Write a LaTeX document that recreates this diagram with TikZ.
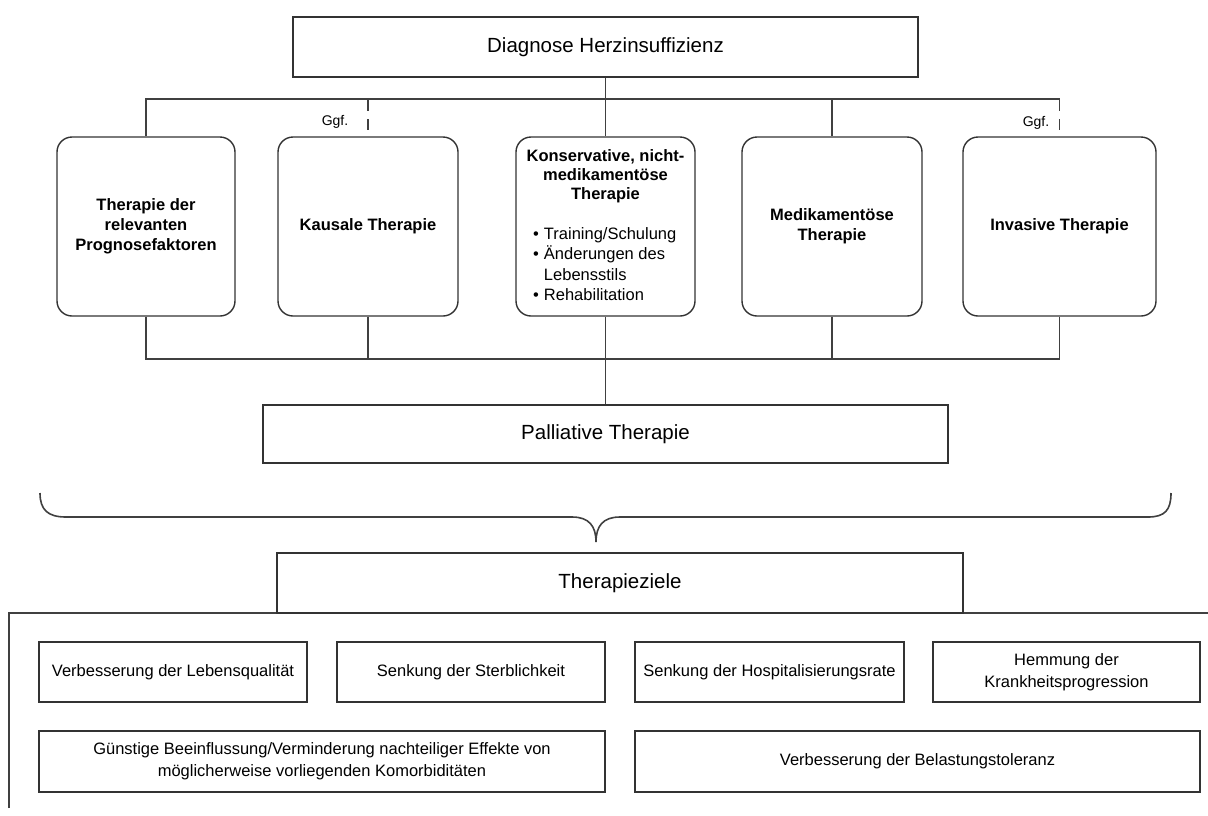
\documentclass[tikz,border=0pt]{standalone}
\usepackage{fontspec}
\setmainfont{Liberation Sans}
\begin{document}
\begin{tikzpicture}[x=1pt,y=-1pt,
  every node/.style={inner sep=2pt},
  ink/.style={draw=black!80, line width=1.4pt},
  mainbox/.style={ink, fill=white, minimum height=60pt, font=\fontsize{20.5}{24}\selectfont},
  thbox/.style={ink, fill=white, rounded corners=15pt, minimum height=179pt, align=center, font=\bfseries\fontsize{16.5}{20}\selectfont},
  goalbox/.style={ink, fill=white, minimum height=60pt, align=center, font=\fontsize{16.5}{22}\selectfont},
  conn/.style={draw=black!75, line width=1.4pt},
  optconn/.style={conn, dash pattern=on 12pt off 8pt},
  ggf/.style={font=\fontsize{14}{16}\selectfont, inner sep=0pt}
]
\useasboundingbox (0,0) rectangle (1208,815);

% top
\node[mainbox, minimum width=625pt] (top) at (605.5,47) {Diagnose Herzinsuffizienz};

% therapy boxes
\node[thbox, minimum width=178pt] (b1) at (146,226.5) {Therapie der\\relevanten\\Prognosefaktoren};
\node[thbox, minimum width=180pt] (b2) at (368,226.5) {Kausale Therapie};
\node[thbox, minimum width=179pt] (b3) at (605.5,226.5) {};
\node[thbox, minimum width=180pt] (b4) at (832,226.5) {Medikamentöse\\Therapie};
\node[thbox, minimum width=193pt] (b5) at (1059.5,226.5) {Invasive Therapie};

\node[anchor=north, inner sep=0pt, align=center, font=\bfseries\fontsize{16.5}{19}\selectfont] (b3title) at (605.5,149) {Konservative, nicht-\\medikamentöse\\Therapie};
\node[anchor=north west, inner sep=0pt, font=\fontsize{16.5}{20.5}\selectfont] (b3list) at (533,224.5)
  {\begin{tabular}{@{}l@{\hspace{5pt}}l@{}}\textbullet & Training/Schulung\\ \textbullet & Änderungen des\\ & Lebensstils\\ \textbullet & Rehabilitation\end{tabular}};

% upper bus
\coordinate (busT) at (606,99);
\draw[conn] (b1.north) -- (b1.north |- busT) -- (b5.north |- busT);
\draw[conn] (top.south) -- (b3.north);
\draw[conn] (b4.north |- busT) -- (b4.north);
\draw[optconn] (b2.north |- busT) -- ([yshift=6pt]b2.north);
\draw[optconn] (b5.north |- busT) -- ([yshift=6pt]b5.north);
\node[ggf] (ggf1) at (335,122) {Ggf.};
\node[ggf] (ggf2) at (1036,123) {Ggf.};

% palliative
\node[mainbox, minimum width=685pt, minimum height=58pt] (pal) at (605.5,434) {Palliative Therapie};

% lower bus
\coordinate (busB) at (606,359);
\draw[conn] (b1.south) -- (b1.south |- busB) -- (b5.south |- busB) -- (b5.south);
\draw[conn] (b2.south) -- (b2.south |- busB);
\draw[conn] (b4.south) -- (b4.south |- busB);
\draw[conn] (b3.south) -- (pal.north);

% brace
\draw[conn, line width=1.6pt] (40,493) .. controls (40,510) and (48,517) .. (66,517) -- (572,517)
  .. controls (589,517) and (596,526) .. (596,542)
  .. controls (596,526) and (603,517) .. (620,517) -- (1148,517)
  .. controls (1165,517) and (1171,510) .. (1171,493);

% goals frame
\draw[conn] (9,808) -- (9,613) -- (1208,613);
\node[mainbox, minimum width=686pt] (zie) at (620,583) {Therapieziele};

\node[goalbox, minimum width=268pt] (g1) at (173,672) {Verbesserung der Lebensqualität};
\node[goalbox, minimum width=268pt] (g2) at (471,672) {Senkung der Sterblichkeit};
\node[goalbox, minimum width=269pt] (g3) at (769.5,672) {Senkung der Hospitalisierungsrate};
\node[goalbox, minimum width=267pt] (g4) at (1066.5,672) {Hemmung der\\Krankheitsprogression};
\node[goalbox, minimum width=566pt, minimum height=61pt] (g5) at (322,761.5) {Günstige Beeinflussung/Verminderung nachteiliger Effekte von\\möglicherweise vorliegenden Komorbiditäten};
\node[goalbox, minimum width=565pt, minimum height=61pt] (g6) at (917.5,761.5) {Verbesserung der Belastungstoleranz};
\end{tikzpicture}
\end{document}
